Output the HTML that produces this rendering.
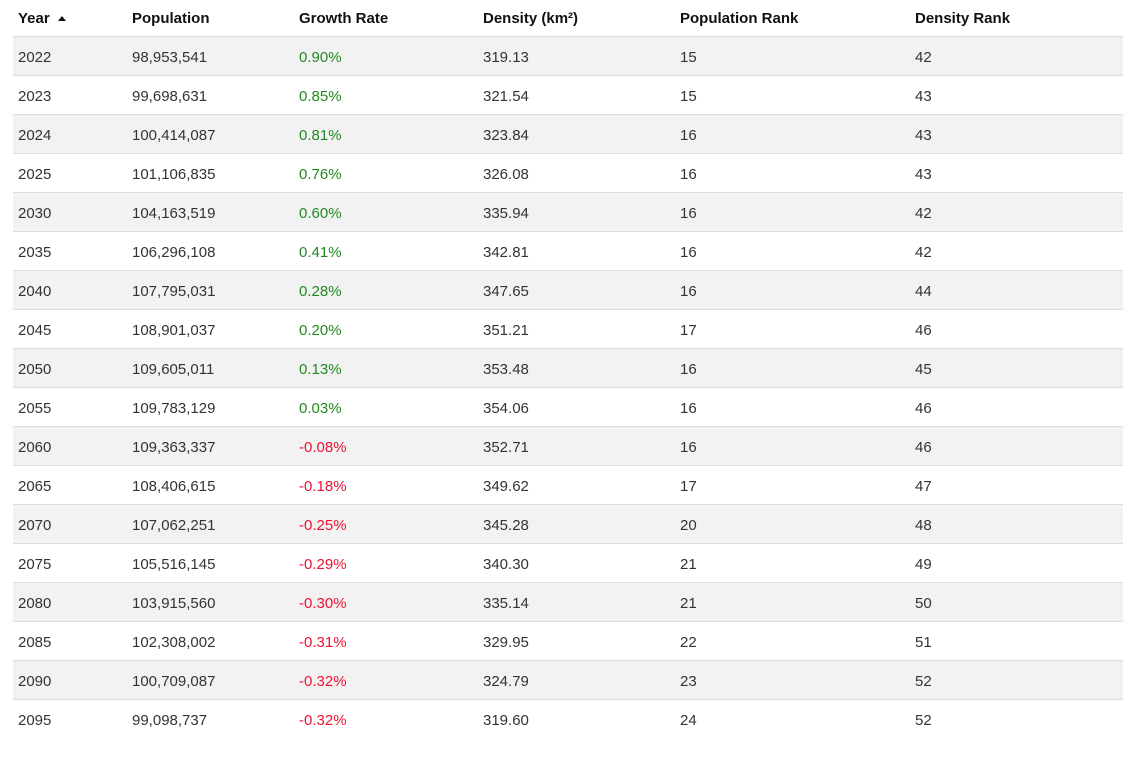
<!DOCTYPE html>
<html><head><meta charset="utf-8"><style>
body{margin:0;width:1133px;height:767px;background:#fff;font-family:"Liberation Sans",sans-serif;font-size:15px;color:#333;overflow:hidden}
table{position:absolute;left:13px;top:0;width:1110px;border-collapse:collapse}
th{height:36px;text-align:left;font-weight:bold;color:#111;padding:0 0 0 5px;border-bottom:1px solid #ddd;vertical-align:middle}
td{height:39px;box-sizing:border-box;padding:3px 0 0 5px;border-top:1px solid #ddd;vertical-align:middle}
tbody tr:nth-child(odd){background:#f2f2f2}
.pos{color:#208a20}.neg{color:#ee1133}
.arr{display:inline-block;width:0;height:0;border-left:4px solid transparent;border-right:4px solid transparent;border-bottom:5px solid #111;margin-left:8px;vertical-align:2px}
</style></head><body>
<table>
<colgroup><col style="width:114px"><col style="width:167px"><col style="width:184px"><col style="width:197px"><col style="width:235px"><col></colgroup>
<thead><tr>
<th>Year<span class="arr"></span></th>
<th>Population</th>
<th>Growth Rate</th>
<th>Density (km²)</th>
<th>Population Rank</th>
<th>Density Rank</th>
</tr></thead>
<tbody id="tb"></tbody>
</table>
<script>
const rows=[
["2022","98,953,541","0.90%","319.13","15","42"],
["2023","99,698,631","0.85%","321.54","15","43"],
["2024","100,414,087","0.81%","323.84","16","43"],
["2025","101,106,835","0.76%","326.08","16","43"],
["2030","104,163,519","0.60%","335.94","16","42"],
["2035","106,296,108","0.41%","342.81","16","42"],
["2040","107,795,031","0.28%","347.65","16","44"],
["2045","108,901,037","0.20%","351.21","17","46"],
["2050","109,605,011","0.13%","353.48","16","45"],
["2055","109,783,129","0.03%","354.06","16","46"],
["2060","109,363,337","-0.08%","352.71","16","46"],
["2065","108,406,615","-0.18%","349.62","17","47"],
["2070","107,062,251","-0.25%","345.28","20","48"],
["2075","105,516,145","-0.29%","340.30","21","49"],
["2080","103,915,560","-0.30%","335.14","21","50"],
["2085","102,308,002","-0.31%","329.95","22","51"],
["2090","100,709,087","-0.32%","324.79","23","52"],
["2095","99,098,737","-0.32%","319.60","24","52"]];
const names=["year-cell","population-cell","growth-rate-cell","density-cell","population-rank-cell","density-rank-cell"];
const tb=document.getElementById('tb');
rows.forEach(r=>{
const tr=document.createElement('tr');


r.forEach((v,i)=>{
const td=document.createElement('td');


td.textContent=v;
if(i===2)td.className=v.startsWith('-')?'neg':'pos';
tr.appendChild(td);});
tb.appendChild(tr);});
</script>
</body></html>
